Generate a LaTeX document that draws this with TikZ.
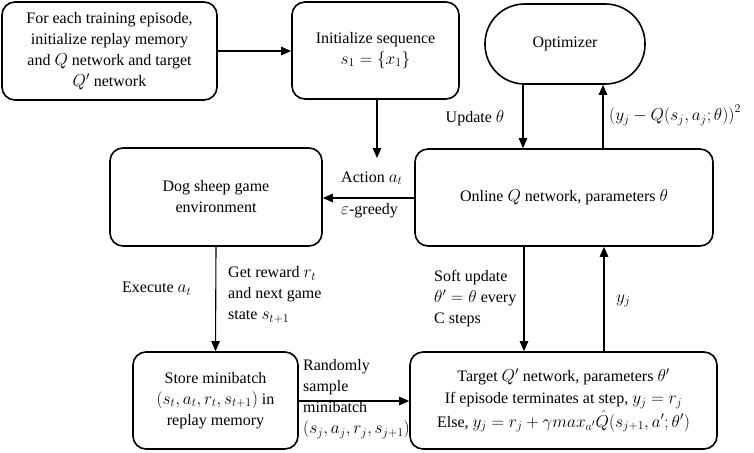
\documentclass[tikz,border=0pt]{standalone}
\usepackage{fontspec}
\setmainfont{Liberation Serif}
\DeclareMathSizes{16}{18}{13}{10}
\usetikzlibrary{arrows.meta}
\begin{document}
\begin{tikzpicture}[x=1pt,y=-1pt,
  every node/.style={font=\fontsize{16}{21}\selectfont},
  box/.style={draw,line width=1.6pt,rounded corners=13pt,align=center,inner sep=0pt},
  pill/.style={draw,line width=1.6pt,rounded corners=39.5pt,align=center,inner sep=0pt},
  conn/.style={line width=1.1pt,-{Triangle[length=10pt,width=8.5pt]}},
  lbl/.style={inner sep=0pt,align=left,anchor=west},
  lblc/.style={inner sep=0pt,align=center}]
\useasboundingbox (0,0) rectangle (754,452);
\node[box,minimum width=215pt,minimum height=98pt] (init) at (109.5,51)
  {For each training episode,\\initialize replay memory\\and $Q$ network and target\\$Q'$ network};
\node[box,minimum width=167pt,minimum height=97pt] (seq) at (375.5,50.5)
  {Initialize sequence\\$s_1=\{x_1\}$};
\node[pill,minimum width=160pt,minimum height=80pt] (opt) at (565,44) {Optimizer};
\node[box,minimum width=212pt,minimum height=98pt] (env) at (216,197)
  {Dog sheep game\\environment};
\node[box,minimum width=298pt,minimum height=97pt] (onl) at (564,197.5)
  {Online $Q$ network, parameters $\theta$};
\node[box,minimum width=165pt,minimum height=97pt] (store) at (215.5,400.5)
  {Store minibatch\\$(s_t,a_t,r_t,s_{t+1})$ in\\replay memory};
\node[box,minimum width=307pt,minimum height=97pt] (tgt) at (563.5,400.5)
  {Target $Q'$ network, parameters $\theta'$\\[1pt]If episode terminates at step, $y_j=r_j$\\[1pt]Else, $y_j=r_j+\gamma max_{a'}\hat{Q}(s_{j+1},a';\theta')$};
\coordinate (act) at (377,158);

\draw[conn] (init.east) -- (seq.west |- init.east);
\draw[conn] (seq.south -| act) -- (act);
\draw[conn] (onl.west |- 0,198) -- (env.east |- 0,198);
\draw[conn] (opt.south -| 523,0) -- (onl.north -| 523,0);
\draw[conn] (onl.north -| 603,0) -- (opt.south -| 603,0);
\draw[conn] (env.south) -- (store.north);
\draw[conn] (onl.south -| 524,0) -- (tgt.north -| 524,0);
\draw[conn] (tgt.north -| 604,0) -- (onl.south -| 604,0);
\draw[conn] (store.east |- 0,401) -- (tgt.west |- 0,401);

\node[lblc] (lupd) at (475,118) {Update $\theta$};
\node[lbl] (lloss) at (609,115) {$\bigl(y_j-Q(s_j,a_j;\theta)\bigr)^2$};
\node[lbl] (lact) at (341,178) {Action $a_t$};
\node[lbl] (leps) at (341,211) {$\varepsilon$-greedy};
\node[lbl] (lexe) at (122,289) {Execute $a_t$};
\node[lbl] (lrew) at (228,295) {Get reward $r_t$\\and next game\\state $s_{t+1}$};
\node[lbl] (lsamp) at (303,399) {Randomly\\sample\\minibatch\\$(s_j,a_j,r_j,s_{j+1})$};
\node[lbl] (lsoft) at (434,299) {Soft update\\$\theta'=\theta$ every\\C steps};
\node[lbl] (lyj) at (616,301) {$y_j$};
\end{tikzpicture}
\end{document}
